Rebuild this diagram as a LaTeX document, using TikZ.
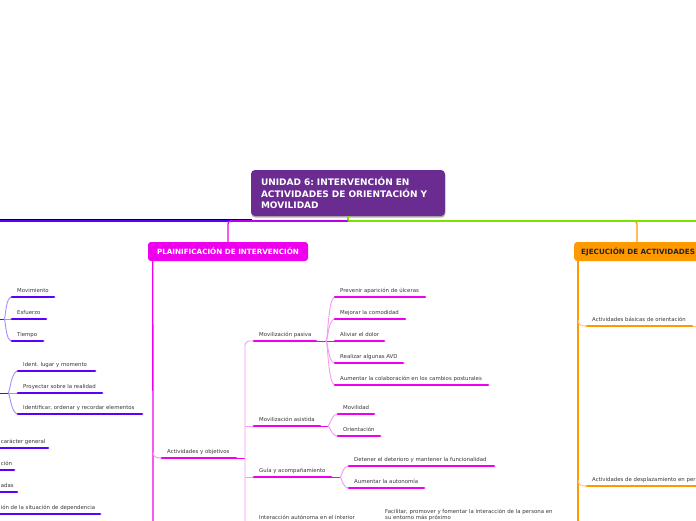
\documentclass[tikz,border=0pt]{standalone}
\usepackage{fontspec}
\setmainfont{DejaVu Sans}
\frenchspacing
\usetikzlibrary{shadows}
\definecolor{cpurple}{HTML}{6A2C91}
\definecolor{cmag}{HTML}{EE00EE}
\definecolor{lmag}{HTML}{F39BF3}
\definecolor{cblue}{HTML}{5A00FF}
\definecolor{lblue}{HTML}{A88CFF}
\definecolor{corange}{HTML}{FF9900}
\definecolor{lorange}{HTML}{FFC474}
\definecolor{cgreen}{HTML}{7DE000}
\definecolor{txt}{HTML}{383838}
\newcommand\rskc[4]{\coordinate (#1-s) at (#2,#4); \coordinate (#1-e) at (#3,#4);}
\newcommand\rsku[3]{\draw[ul,#2] (#1-s) -- (#1-e); \node[lbl,anchor=base west] (#1) at ([xshift=5pt,yshift=5pt]#1-s) {#3};}
\newcommand\rskr[3]{\draw[ul,#2] (#1-s) -- (#1-e); \node[lbl,anchor=base west] (#1) at ([yshift=5pt]#1-s -| edg) {#3};}
\newcommand\rskb[3]{\draw[thinc,#3] (#1) .. controls +(2,0) and +(-7,0) .. (#2-s);}
\begin{document}
\frenchspacing
\begin{tikzpicture}[x=1pt,y=-1pt,
  lbl/.style={font=\fontsize{5.4}{6.2}\selectfont, text=txt, inner sep=0pt},
  ul/.style={line width=2.8pt, line cap=round},
  thinc/.style={line width=0.9pt},
  maincon/.style={line width=1.3pt},
  topic/.style={rounded corners=3pt, inner sep=0pt, minimum height=19pt,
    font=\bfseries\fontsize{7.2}{8}\selectfont, text height=5.2pt, text depth=0pt}
]
\useasboundingbox (0,0) rectangle (696,520);
\fill[white] (0,0) rectangle (696,520);
\clip (0,0) rectangle (696,520);
\coordinate (edg) at (0.6,0);

% ---------- main nodes
\node[fill=cpurple, rounded corners=4pt, minimum width=194pt, minimum height=46pt,
  text width=174pt, align=left, inner xsep=10pt, inner ysep=0pt, text=white,
  font=\bfseries\fontsize{9}{11.3}\selectfont,
  drop shadow={shadow xshift=0.4pt, shadow yshift=-1.6pt, fill=black, opacity=0.3}]
  (c) at (348,193) {UNIDAD 6: INTERVENCIÓN EN\\ACTIVIDADES DE ORIENTACIÓN Y\\MOVILIDAD};
\node[topic, fill=cmag, text=white, minimum width=160pt] (pl) at (228,251.5) {PLAINIFICACIÓN DE INTERVENCIÓN};
\node[topic, fill=corange, text=black!85, anchor=west, text width=126pt, align=left, inner xsep=7pt]
  (ej) at (574,251.5) {EJECUCIÓN DE ACTIVIDADES};

% ---------- top connectors
\coordinate (hub) at (348,221);
\coordinate (blkl) at (-5,219.6);
\coordinate (blkr) at (252,219.6);
\coordinate (lft) at (-5,221);
\coordinate (rgt) at (700,221);
\draw[line width=0.6pt, black] (blkl) -- (blkr);
\draw[maincon, cblue] (hub) -- (lft);
\draw[maincon, corange, rounded corners=3pt] (hub) -| ([xshift=63pt]ej.north west);
\draw[maincon, cgreen] (hub) -- (rgt);
\draw[maincon, cgreen] (c.south) -- (hub);
\draw[maincon, cmag, rounded corners=3pt] (hub) -| (pl.north);

% ---------- coordinates of topics
\rskc{mov}{12}{54}{297}
\rskc{esf}{12}{46}{319}
\rskc{tie}{12}{43}{341}
\rskc{idl}{18}{95}{371}
\rskc{pro}{18}{102}{393}
\rskc{ide}{18}{142}{414}
\rskc{ga1}{-5}{48}{448}
\rskc{ga2}{-5}{14}{470}
\rskc{ga3}{-5}{17}{492}
\rskc{ga4}{-5}{100}{514}
\rskc{ao}{162}{236}{458}
\rskc{mp}{254}{316}{341}
\rskc{ma}{254}{320}{426}
\rskc{gu}{254}{331}{477}
\rskc{ia}{254}{360}{524}
\rskc{pu}{335}{425}{297}
\rskc{mc}{335}{405}{319}
\rskc{ad}{335}{384}{341}
\rskc{ra}{335}{403}{363}
\rskc{ac}{335}{488}{385}
\rskc{mvl}{338}{374}{414}
\rskc{ori}{338}{380}{436}
\rskc{dd}{349}{494}{466}
\rskc{aa}{349}{424}{488}
\rskc{bo}{587}{692}{326}
\rskc{dp}{587}{700}{486}

% ---------- blue connectors
\coordinate (bp1) at (-5,319);
\coordinate (bj1) at (4,319);
\coordinate (bp2) at (-5,393);
\coordinate (bj2) at (8,393);
\draw[thinc, cblue] (bp1) -- (bj1);
\draw[thinc, cblue] (bp2) -- (bj2);
\rskb{bj1}{mov}{lblue}
\draw[thinc, lblue] (bj1) -- (esf-s);
\rskb{bj1}{tie}{lblue}
\rskb{bj2}{idl}{lblue}
\draw[thinc, lblue] (bj2) -- (pro-s);
\rskb{bj2}{ide}{lblue}

% ---------- magenta connectors
\coordinate (pvt) at ([xshift=5pt]pl.south west);
\coordinate (pvb) at (153,525);
\draw[maincon, cmag] (pvt) -- (pvb);
\coordinate (aoj) at (153,452);
\draw[thinc, lmag] (aoj) .. controls +(0,5) and +(-6,0) .. (ao-s);
\coordinate (mvb) at (245,525);
\draw[thinc, cmag] (ao-e) -- (ao-e -| mvb);
\draw[thinc, lmag, rounded corners=4pt] (mp-s) -| (mvb);
\draw[thinc, lmag] (ma-s -| mvb) -- (ma-s);
\draw[thinc, lmag] (gu-s -| mvb) -- (gu-s);
\draw[thinc, lmag] (ia-s -| mvb) -- (ia-s);
\coordinate (mpj) at (326,341);
\draw[thinc, cmag] (mp-e) -- (mpj);
\rskb{mpj}{pu}{lmag}
\rskb{mpj}{mc}{lmag}
\draw[thinc, cmag] (mpj) -- (ad-s);
\rskb{mpj}{ra}{lmag}
\rskb{mpj}{ac}{lmag}
\coordinate (maj) at (328,426);
\draw[thinc, cmag] (ma-e) -- (maj);
\rskb{maj}{mvl}{lmag}
\rskb{maj}{ori}{lmag}
\coordinate (guj) at (340,477);
\draw[thinc, cmag] (gu-e) -- (guj);
\rskb{guj}{dd}{lmag}
\rskb{guj}{aa}{lmag}

% ---------- orange connectors
\coordinate (ejt) at ([xshift=4pt]ej.south west);
\coordinate (ejb) at (578,525);
\draw[maincon, corange] (ejt) -- (ejb);
\coordinate (boj) at (578,320);
\coordinate (dpj) at (578,480);
\coordinate (boo) at (700,326);
\draw[thinc, lorange] (boj) .. controls +(0,5) and +(-6,0) .. (bo-s);
\draw[thinc, lorange] (dpj) .. controls +(0,5) and +(-6,0) .. (dp-s);
\draw[thinc, lorange] (bo-e) -- (boo);

% ---------- underlines and labels
\rsku{mov}{cblue}{Movimiento}
\rsku{esf}{cblue}{Esfuerzo}
\rsku{tie}{cblue}{Tiempo}
\rsku{idl}{cblue}{Ident. lugar y momento}
\rsku{pro}{cblue}{Proyectar sobre la realidad}
\rsku{ide}{cblue}{Identificar, ordenar y recordar elementos}
\rskr{ga1}{cblue}{carácter general}
\rskr{ga2}{cblue}{ción}
\rskr{ga3}{cblue}{adas}
\rskr{ga4}{cblue}{ión de la situación de dependencia}

\rsku{ao}{cmag}{Actividades y objetivos}
\rsku{mp}{cmag}{Movilización pasiva}
\rsku{ma}{cmag}{Movilización asistida}
\rsku{gu}{cmag}{Guía y acompañamiento}
\rsku{ia}{cmag}{Interacción autónoma en el interior}
\rsku{pu}{cmag}{Prevenir aparición de úlceras}
\rsku{mc}{cmag}{Mejorar la comodidad}
\rsku{ad}{cmag}{Aliviar el dolor}
\rsku{ra}{cmag}{Realizar algunas AVD}
\rsku{ac}{cmag}{Aumentar la colaboración en los cambios posturales}
\rsku{mvl}{cmag}{Movilidad}
\rsku{ori}{cmag}{Orientación}
\rsku{dd}{cmag}{Detener el deterioro y mantener la funcionalidad}
\rsku{aa}{cmag}{Aumentar la autonomía}
\node[lbl, anchor=north west, align=left] (fac) at (385,509.1)
  {Facilitar, promover y fomentar la interacción de la persona en\\su entorno más próximo};

\rsku{bo}{corange}{Actividades básicas de orientación}
\rsku{dp}{corange}{Actividades de desplazamiento en per}
\end{tikzpicture}
\end{document}
